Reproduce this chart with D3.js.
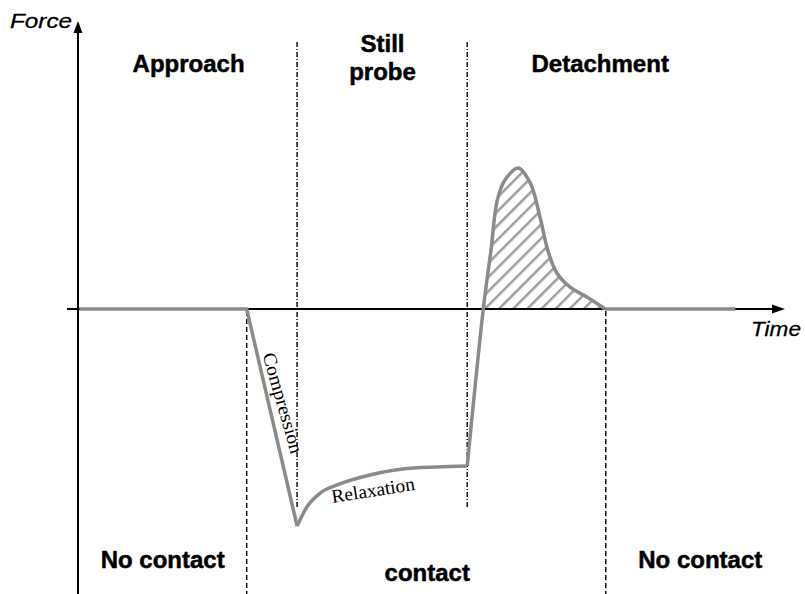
<!DOCTYPE html>
<html>
<head>
<meta charset="utf-8">
<script src="https://cdn.jsdelivr.net/npm/d3@7"></script>
<style>
  html, body { margin: 0; padding: 0; background: #fff; }
  svg { display: block; }
</style>
</head>
<body>
<div id="chart"></div>
<script>
// Probe-tack test: force versus time over the four phases of one cycle.

// Approach then compression (sharp drop once the probe touches the surface)
const compressionTime  = [0.2, 24.1, 31.3];
const compressionForce = [0, 0, -100];

// Relaxation while the probe is held still
const relaxationTime  = [31.3, 32.7, 34.6, 37.0, 41.7, 46.4, 51.3, 55.6];
const relaxationForce = [-100, -91.2, -84.8, -81.1, -76.5, -73.7, -72.8, -72.4];

// Detachment: rise through zero, adhesion peak, decay back to zero
const detachTime  = [55.6, 57.9, 59.0, 59.9, 61.0, 62.9, 64.6, 66.0, 67.1, 68.4, 70.3, 72.7, 75.3];
const detachForce = [-72.4, 0, 27.2, 50.2, 59.4, 65.0, 58.1, 42.4, 27.2, 16.6, 10.1, 5.5, 0];

// No contact after separation
const restTime  = [75.3, 93.9];
const restForce = [0, 0];

// Phase boundaries (time) and their line styles
const boundaryTime  = [24.1, 31.3, 55.6, 75.4];
const boundaryStyle = ["dash", "dashdot", "dashdot", "dash"];

// Phase labels
const phaseLabels   = [["Approach"], ["Still", "probe"], ["Detachment"]];
const phaseCenters  = [15.8, 43.5, 74.6];
const contactLabels = ["No contact", "contact", "No contact"];
const contactCenters= [12.1, 49.9, 88.9];

const W = 805, H = 594;
const svg = d3.select("#chart").append("svg")
  .attr("width", W).attr("height", H)
  .style("font-family", "'Liberation Sans', Arial, sans-serif");

const x = d3.scaleLinear().domain([0, 100]).range([78, 778]);
const y = d3.scaleLinear().domain([-100, 100]).range([526, 92]);

const zip = (ts, fs) => ts.map((t, i) => ({ t, f: fs[i] }));

// Hatch pattern for the adhesion area
const defs = svg.append("defs");
const pat = defs.append("pattern")
  .attr("id", "hatch").attr("patternUnits", "userSpaceOnUse")
  .attr("width", 10).attr("height", 10)
  .attr("patternTransform", "rotate(45)");
pat.append("line").attr("x1", 0).attr("y1", 0).attr("x2", 0).attr("y2", 10)
  .attr("stroke", "#9c9c9c").attr("stroke-width", 5);

const peakCurve = d3.curveCatmullRom.alpha(0.5);
const positive = zip(detachTime, detachForce).filter(d => d.f >= 0);
svg.append("path")
  .datum(positive)
  .attr("d", d3.area().x(d => x(d.t)).y0(y(0)).y1(d => y(d.f)).curve(peakCurve))
  .attr("fill", "url(#hatch)");

// Phase boundary lines
boundaryTime.forEach((t, i) => {
  const dashed = boundaryStyle[i] === "dash";
  svg.append("line")
    .attr("x1", x(t)).attr("x2", x(t))
    .attr("y1", dashed ? y(0) + 2 : 42)
    .attr("y2", dashed ? H : 508)
    .attr("stroke", "#000").attr("stroke-width", 1.4)
    .attr("stroke-dasharray", dashed ? "5,3" : "5,2,1,2");
});

// Axes with arrowheads
const ax = svg.append("g").attr("stroke", "#000").attr("fill", "#000");
ax.append("line").attr("x1", 67).attr("x2", 776).attr("y1", y(0)).attr("y2", y(0))
  .attr("stroke-width", 2);
ax.append("path").attr("d", `M785,${y(0)} L772,${y(0) - 4.5} L772,${y(0) + 4.5} Z`).attr("stroke", "none");
ax.append("line").attr("x1", x(0)).attr("x2", x(0)).attr("y1", H).attr("y2", 30)
  .attr("stroke-width", 2);
ax.append("path").attr("d", `M${x(0)},21 L${x(0) - 4.5},33 L${x(0) + 4.5},33 Z`).attr("stroke", "none");

// Force curve
const lineStyle = p => p.attr("fill", "none").attr("stroke", "#8a8a8a")
  .attr("stroke-width", 3.5).attr("stroke-linejoin", "miter").attr("stroke-linecap", "butt");
const segments = [
  [zip(compressionTime, compressionForce), d3.curveLinear],
  [zip(relaxationTime, relaxationForce), d3.curveMonotoneX],
  [zip(detachTime, detachForce), peakCurve],
  [zip(restTime, restForce), d3.curveLinear]
];
segments.forEach(([data, curve]) => {
  svg.append("path").datum(data)
    .attr("d", d3.line().x(d => x(d.t)).y(d => y(d.f)).curve(curve))
    .call(lineStyle);
});

// Axis titles
svg.append("text").attr("x", 10).attr("y", 28)
  .attr("font-size", 21).attr("font-style", "italic")
  .attr("stroke", "#000").attr("stroke-width", 0.3)
  .attr("textLength", 62).attr("lengthAdjust", "spacingAndGlyphs")
  .text("Force");
svg.append("text").attr("x", 751).attr("y", 336)
  .attr("font-size", 21).attr("font-style", "italic")
  .attr("stroke", "#000").attr("stroke-width", 0.3)
  .attr("textLength", 50).attr("lengthAdjust", "spacingAndGlyphs")
  .text("Time");

// Heavier bold for the phase and contact labels
const heavy = t => t.attr("text-anchor", "middle").attr("font-size", 24)
  .attr("font-weight", "bold").attr("stroke", "#000").attr("stroke-width", 0.5);

// Phase titles
phaseLabels.forEach((lines, i) => {
  const base = lines.length > 1 ? 52 : 72;
  lines.forEach((s, j) => {
    svg.append("text").attr("x", x(phaseCenters[i])).attr("y", base + j * 28)
      .call(heavy).text(s);
  });
});

// Contact state labels
contactLabels.forEach((s, i) => {
  svg.append("text").attr("x", x(contactCenters[i])).attr("y", i === 1 ? 581 : 568)
    .call(heavy).text(s);
});

// Annotations along the curve
svg.append("text")
  .attr("transform", "translate(283,403) rotate(74)")
  .attr("text-anchor", "middle").attr("dominant-baseline", "central")
  .attr("font-family", "'Liberation Serif', 'Times New Roman', serif")
  .attr("font-size", 19).attr("textLength", 104).attr("lengthAdjust", "spacingAndGlyphs")
  .text("Compression");
svg.append("text")
  .attr("transform", "translate(373,490) rotate(-9)")
  .attr("text-anchor", "middle").attr("dominant-baseline", "central")
  .attr("font-family", "'Liberation Serif', 'Times New Roman', serif")
  .attr("font-size", 19).attr("textLength", 84).attr("lengthAdjust", "spacingAndGlyphs")
  .text("Relaxation");
</script>
</body>
</html>
